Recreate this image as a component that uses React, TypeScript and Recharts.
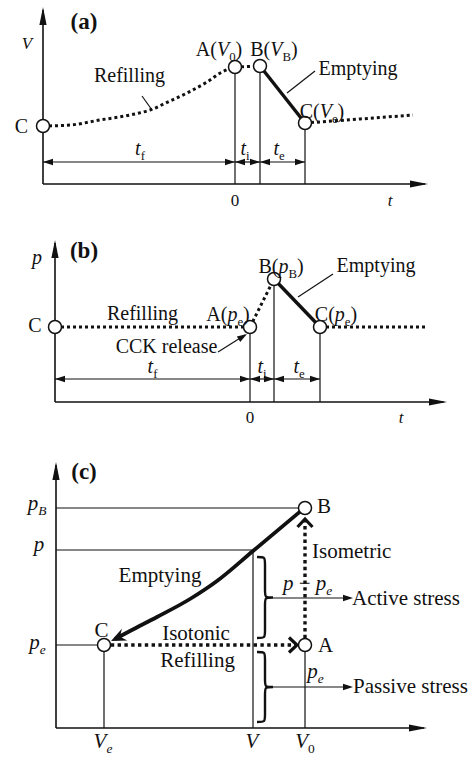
import React from "react";
import {
  ComposedChart,
  Line,
  ReferenceArea,
  ReferenceDot,
  ReferenceLine,
  XAxis,
  YAxis,
} from "recharts";

type Pt = { x: number; y: number };
type Seg = [Pt, Pt];
type Label = { x: number; y: number; text: string; anchor?: "start" | "middle" | "end" };
type Head = { x: number; y: number; angle: number };
type Brace = { x1: number; x2: number; y1: number; y2: number };
type Series = { pts: Pt[]; smooth?: boolean };

const p = (x: number, y: number): Pt => ({ x, y });

// ---------- (a) volume V against time t ----------
const refillA = [
  p(-7.68, 2.9), p(-6.6, 2.95), p(-5.4, 3.2), p(-4.2, 3.45), p(-3.4, 3.7),
  p(-2.6, 4.15), p(-1.92, 4.55), p(-1.12, 5.1), p(-0.52, 5.6), p(0, 5.85),
];
const holdA = [p(0, 5.85), p(1, 5.9)];
const emptyA = [p(1, 5.9), p(2.8, 3.05)];
const nextA = [p(2.8, 3.05), p(5, 3.25), p(7.12, 3.45)];
const statesA = [p(-7.68, 2.9), p(0, 5.85), p(1, 5.9), p(2.8, 3.05)];
const axesA: Seg[] = [[p(-7.68, 0), p(7.6, 0)], [p(-7.68, 0), p(-7.68, 8.7)]];
const axisTipsA: Head[] = [{ x: 7.72, y: 0, angle: 0 }, { x: -7.68, y: 8.85, angle: -90 }];
const guidesA: Seg[] = [
  [p(0, 0), p(0, 5.85)], [p(1, 0), p(1, 5.9)], [p(2.8, 0), p(2.8, 3.05)],
  [p(-7.68, 1.1), p(0, 1.1)], [p(0, 1.1), p(1, 1.1)], [p(1, 1.1), p(2.8, 1.1)],
  [p(-3.72, 4.4), p(-3.32, 3.7)], [p(3.2, 5.65), p(2.08, 4.55)],
];
const dimTipsA: Head[] = [
  { x: -7.68, y: 1.1, angle: 180 }, { x: 0, y: 1.1, angle: 0 },
  { x: 0, y: 1.1, angle: 180 }, { x: 1, y: 1.1, angle: 0 },
  { x: 1, y: 1.1, angle: 180 }, { x: 2.8, y: 1.1, angle: 0 },
];
const labelsA: Label[] = [
  { x: -8.54, y: 2.55, text: "C" },
  { x: -0.64, y: 6.4, text: "A(_V_~0~)" },
  { x: 1.56, y: 6.4, text: "B(_V_~B~)" },
  { x: -4.22, y: 5.1, text: "Refilling" },
  { x: 4.92, y: 5.45, text: "Emptying" },
  { x: 3.48, y: 3.3, text: "C(_V_~e~)" },
  { x: -3.8, y: 1.45, text: "_t_~f~" },
  { x: 0.4, y: 1.45, text: "_t_~i~" },
  { x: 1.76, y: 1.45, text: "_t_~e~" },
];
const smallA: Label[] = [
  { x: -8.32, y: 6.75, text: "_V_" },
  { x: 0, y: -1.1, text: "0" },
  { x: 6.2, y: -1.1, text: "_t_" },
];
const titleA: Label = { x: -6.04, y: 7.75, text: "(a)" };

// ---------- (b) pressure p against time t ----------
const refillB = [p(-7.8, 3.75), p(0, 3.75)];
const riseB = [p(0, 3.75), p(0.96, 6.15)];
const emptyB = [p(0.96, 6.15), p(2.8, 3.75)];
const nextB = [p(2.8, 3.75), p(7.08, 3.75)];
const statesB = [p(-7.8, 3.75), p(0, 3.75), p(0.96, 6.15), p(2.8, 3.75)];
const axesB: Seg[] = [[p(-7.8, 0), p(7.75, 0)], [p(-7.8, 0), p(-7.8, 7.95)]];
const axisTipsB: Head[] = [{ x: 7.88, y: 0, angle: 0 }, { x: -7.8, y: 8.1, angle: -90 }];
const guidesB: Seg[] = [
  [p(0, 0), p(0, 3.75)], [p(0.96, 0), p(0.96, 6.15)], [p(2.8, 0), p(2.8, 3.75)],
  [p(-7.8, 1.15), p(0, 1.15)], [p(0, 1.15), p(0.96, 1.15)], [p(0.96, 1.15), p(2.8, 1.15)],
  [p(3.32, 6.4), p(1.92, 5.25)], [p(-1.28, 2.5), p(-0.2, 3.35)],
];
const dimTipsB: Head[] = [
  { x: -7.8, y: 1.15, angle: 180 }, { x: 0, y: 1.15, angle: 0 },
  { x: 0, y: 1.15, angle: 180 }, { x: 0.96, y: 1.15, angle: 0 },
  { x: 0.96, y: 1.15, angle: 180 }, { x: 2.8, y: 1.15, angle: 0 },
  { x: -0.12, y: 3.4, angle: -32 },
];
const labelsB: Label[] = [
  { x: -8.6, y: 3.5, text: "C" },
  { x: -8.52, y: 6.9, text: "_p_" },
  { x: -4.3, y: 4.1, text: "Refilling" },
  { x: -0.88, y: 4.05, text: "A(_p_~e~)" },
  { x: 1.24, y: 6.45, text: "B(_p_~B~)" },
  { x: 5.04, y: 6.5, text: "Emptying" },
  { x: 3.44, y: 4.05, text: "C(_p_~e~)" },
  { x: -3.34, y: 2.45, text: "CCK release" },
  { x: -3.9, y: 1.45, text: "_t_~f~" },
  { x: 0.48, y: 1.45, text: "_t_~i~" },
  { x: 1.96, y: 1.45, text: "_t_~e~" },
];
const smallB: Label[] = [
  { x: 0, y: -1.05, text: "0" },
  { x: 6.04, y: -1.05, text: "_t_" },
];
const titleB: Label = { x: -6.64, y: 7.2, text: "(b)" };

// ---------- (c) pressure p against volume V ----------
const emptyC = [
  p(2.95, 4.45), p(3.7, 4.85), p(5.05, 5.55), p(6.7, 6.45), p(8.05, 7.35), p(9.85, 8.85), p(12.3, 10.9),
];
const isometricC = [p(12.45, 4.15), p(12.45, 10.4)];
const isotonicC = [p(2.4, 4.15), p(12.0, 4.15)];
const statesC = [p(12.45, 11), p(12.45, 4.15), p(2.4, 4.15)];
const axesC: Seg[] = [[p(0, 0), p(18.4, 0)], [p(0, 0), p(0, 13.15)]];
const axisTipsC: Head[] = [{ x: 18.55, y: 0, angle: 0 }, { x: 0, y: 13.3, angle: -90 }];
const guidesC: Seg[] = [
  [p(0, 11), p(12.45, 11)], [p(0, 8.9), p(9.85, 8.9)], [p(0, 4.15), p(2.4, 4.15)],
  [p(9.85, 0), p(9.85, 8.9)], [p(2.4, 0), p(2.4, 4.15)], [p(12.45, 0), p(12.45, 4.15)],
  [p(10.85, 6.5), p(14.5, 6.5)], [p(10.85, 2.05), p(14.5, 2.05)],
];
const stressTipsC: Head[] = [{ x: 14.85, y: 6.5, angle: 0 }, { x: 14.85, y: 2.05, angle: 0 }];
const chevronsC: Head[] = [{ x: 12.45, y: 10.45, angle: -90 }, { x: 12.05, y: 4.15, angle: 0 }];
const barbsC: Head[] = [{ x: 2.75, y: 4.35, angle: 155 }];
const bracesC: Brace[] = [
  { x1: 10.05, x2: 10.85, y1: 4.5, y2: 8.55 },
  { x1: 10.05, x2: 10.85, y1: 0.3, y2: 3.8 },
];
const labelsC: Label[] = [
  { x: -0.95, y: 10.9, text: "_p_~_B_~" },
  { x: -0.85, y: 8.85, text: "_p_" },
  { x: -0.93, y: 3.95, text: "_p_~_e_~" },
  { x: 2.35, y: -1.0, text: "_V_~_e_~" },
  { x: 9.8, y: -1.0, text: "_V_" },
  { x: 12.45, y: -1.0, text: "_V_~0~" },
  { x: 13.05, y: 10.75, text: "B", anchor: "start" },
  { x: 13.1, y: 3.8, text: "A", anchor: "start" },
  { x: 2.28, y: 4.55, text: "C" },
  { x: 5.2, y: 7.3, text: "Emptying" },
  { x: 7.0, y: 4.4, text: "Isotonic" },
  { x: 7.08, y: 3.05, text: "Refilling" },
  { x: 12.8, y: 8.5, text: "Isometric", anchor: "start" },
  { x: 12.58, y: 6.9, text: "_p_ \u2212 _p_~_e_~" },
  { x: 14.8, y: 6.15, text: "Active stress", anchor: "start" },
  { x: 14.85, y: 1.75, text: "Passive stress", anchor: "start" },
  { x: 12.98, y: 2.5, text: "_p_~_e_~" },
];
const titleC: Label = { x: 1.4, y: 12.45, text: "(c)" };

const INK = "#111";
const FONT = '"Liberation Serif", "Times New Roman", Times, serif';

// "_" toggles italic, "~" toggles subscript
function rich(s: string, size: number) {
  const parts: { t: string; it: boolean; sub: boolean }[] = [];
  let it = false;
  let sub = false;
  let buf = "";
  const flush = () => {
    if (buf) parts.push({ t: buf, it, sub });
    buf = "";
  };
  for (const ch of s) {
    if (ch === "_") {
      flush();
      it = !it;
    } else if (ch === "~") {
      flush();
      sub = !sub;
    } else buf += ch;
  }
  flush();
  let cur = 0;
  return parts.map((q, i) => {
    const target = q.sub ? size * 0.25 : 0;
    const dy = target - cur;
    cur = target;
    return (
      <tspan
        key={i}
        dy={dy}
        style={{ fontFamily: FONT, fontStyle: q.it ? "italic" : "normal", fontSize: q.sub ? size * 0.64 : size }}
      >
        {q.t}
      </tspan>
    );
  });
}

function Tip({ cx, cy, angle, kind }: { cx: number; cy: number; angle: number; kind: string }) {
  const tf = `translate(${cx},${cy}) rotate(${angle})`;
  if (kind === "chev") {
    return <path transform={tf} d="M-8,-7.5 L0,0 L-8,7.5" fill="none" stroke={INK} strokeWidth={3.2} />;
  }
  const d =
    kind === "axis"
      ? "M0,0 L-18,-3.6 L-18,3.6 Z"
      : kind === "barb"
      ? "M0,0 L-15,-6.5 L-10,0 L-15,6.5 Z"
      : "M0,0 L-10,-3.2 L-10,3.2 Z";
  return <path transform={tf} d={d} fill={INK} />;
}

function BraceShape({ x, y, width, height }: any) {
  const x1 = x + width;
  const xm = x + width / 2;
  const ym = y + height / 2;
  const y1 = y + height;
  const k = width / 2;
  const d = `M${x},${y} C${xm},${y} ${xm},${y} ${xm},${y + k} L${xm},${ym - k} C${xm},${ym} ${xm},${ym} ${x1},${ym} C${xm},${ym} ${xm},${ym} ${xm},${ym + k} L${xm},${y1 - k} C${xm},${y1} ${xm},${y1} ${x},${y1}`;
  return <path d={d} fill="none" stroke={INK} strokeWidth={2.4} />;
}

type PanelProps = {
  height: number;
  xDomain: [number, number];
  yDomain: [number, number];
  axes: Seg[];
  axisTips: Head[];
  guides: Seg[];
  smallTips: Head[];
  chevrons?: Head[];
  barbs?: Head[];
  braces?: Brace[];
  dotted: Series[];
  solid: Series[];
  states: Pt[];
  labels: Label[];
  small?: Label[];
  title: Label;
  fontSize: number;
  dotWidth: number;
  solidWidth: number;
};

function Panel(props: PanelProps) {
  const {
    height, xDomain, yDomain, axes, axisTips, guides, smallTips, chevrons = [], barbs = [],
    braces = [], dotted, solid, states, labels, small = [], title, fontSize, dotWidth, solidWidth,
  } = props;
  const text = (l: Label, size: number, bold = false) => (cp: any) => (
    <text
      x={cp.cx}
      y={cp.cy}
      textAnchor={l.anchor ?? "middle"}
      style={{ fontFamily: FONT, fontSize: size, fontWeight: bold ? 700 : 400 }}
      fill={INK}
    >
      {rich(l.text, size)}
    </text>
  );
  return (
    <ComposedChart width={472} height={height} margin={{ top: 0, right: 0, bottom: 0, left: 0 }}>
      <XAxis type="number" dataKey="x" domain={xDomain} hide allowDataOverflow />
      <YAxis type="number" dataKey="y" domain={yDomain} hide allowDataOverflow />
      {axes.map((s, i) => (
        <ReferenceLine key={`ax${i}`} segment={s} stroke={INK} strokeWidth={1.6} ifOverflow="visible" />
      ))}
      {guides.map((s, i) => (
        <ReferenceLine key={`g${i}`} segment={s} stroke={INK} strokeWidth={1.2} ifOverflow="visible" />
      ))}
      {braces.map((b, i) => (
        <ReferenceArea
          key={`br${i}`}
          x1={b.x1}
          x2={b.x2}
          y1={b.y1}
          y2={b.y2}
          ifOverflow="visible"
          shape={(r: any) => <BraceShape {...r} />}
        />
      ))}
      {dotted.map((s, i) => (
        <Line
          key={`d${i}`}
          data={s.pts}
          dataKey="y"
          type={s.smooth ? "monotone" : "linear"}
          stroke={INK}
          strokeWidth={dotWidth}
          strokeDasharray={`${dotWidth} ${dotWidth}`}
          dot={false}
          activeDot={false}
          isAnimationActive={false}
        />
      ))}
      {solid.map((s, i) => (
        <Line
          key={`s${i}`}
          data={s.pts}
          dataKey="y"
          type={s.smooth ? "monotone" : "linear"}
          stroke={INK}
          strokeWidth={solidWidth}
          dot={false}
          activeDot={false}
          isAnimationActive={false}
        />
      ))}
      {axisTips.map((h, i) => (
        <ReferenceDot key={`at${i}`} x={h.x} y={h.y} ifOverflow="visible"
          shape={(cp: any) => <Tip cx={cp.cx} cy={cp.cy} angle={h.angle} kind="axis" />} />
      ))}
      {smallTips.map((h, i) => (
        <ReferenceDot key={`st${i}`} x={h.x} y={h.y} ifOverflow="visible"
          shape={(cp: any) => <Tip cx={cp.cx} cy={cp.cy} angle={h.angle} kind="small" />} />
      ))}
      {chevrons.map((h, i) => (
        <ReferenceDot key={`ch${i}`} x={h.x} y={h.y} ifOverflow="visible"
          shape={(cp: any) => <Tip cx={cp.cx} cy={cp.cy} angle={h.angle} kind="chev" />} />
      ))}
      {barbs.map((h, i) => (
        <ReferenceDot key={`bb${i}`} x={h.x} y={h.y} ifOverflow="visible"
          shape={(cp: any) => <Tip cx={cp.cx} cy={cp.cy} angle={h.angle} kind="barb" />} />
      ))}
      {states.map((c, i) => (
        <ReferenceDot key={`c${i}`} x={c.x} y={c.y} r={6.5} fill="#fff" stroke={INK} strokeWidth={1.5} ifOverflow="visible" />
      ))}
      {labels.map((l, i) => (
        <ReferenceDot key={`l${i}`} x={l.x} y={l.y} ifOverflow="visible" shape={text(l, fontSize)} />
      ))}
      {small.map((l, i) => (
        <ReferenceDot key={`sm${i}`} x={l.x} y={l.y} ifOverflow="visible" shape={text(l, 17)} />
      ))}
      <ReferenceDot x={title.x} y={title.y} ifOverflow="visible" shape={text(title, 23, true)} />
    </ComposedChart>
  );
}

export default function App() {
  return (
    <div style={{ position: "absolute", left: 0, top: 0, width: 472, height: 760, background: "#fff" }}>
      <div style={{ position: "absolute", left: 0, top: 0 }}>
        <Panel
          height={210}
          xDomain={[-9.4, 9.48]}
          yDomain={[-1.3, 9.2]}
          axes={axesA}
          axisTips={axisTipsA}
          guides={guidesA}
          smallTips={dimTipsA}
          dotted={[{ pts: refillA, smooth: true }, { pts: holdA }, { pts: nextA, smooth: true }]}
          solid={[{ pts: emptyA }]}
          states={statesA}
          labels={labelsA}
          small={smallA}
          title={titleA}
          fontSize={20}
          dotWidth={3}
          solidWidth={3.4}
        />
      </div>
      <div style={{ position: "absolute", left: 0, top: 210 }}>
        <Panel
          height={220}
          xDomain={[-10, 8.88]}
          yDomain={[-1.4, 9.6]}
          axes={axesB}
          axisTips={axisTipsB}
          guides={guidesB}
          smallTips={dimTipsB}
          dotted={[{ pts: refillB }, { pts: riseB }, { pts: nextB }]}
          solid={[{ pts: emptyB }]}
          states={statesB}
          labels={labelsB}
          small={smallB}
          title={titleB}
          fontSize={20}
          dotWidth={3}
          solidWidth={3.4}
        />
      </div>
      <div style={{ position: "absolute", left: 0, top: 430 }}>
        <Panel
          height={330}
          xDomain={[-2.8, 20.8]}
          yDomain={[-1.6, 14.9]}
          axes={axesC}
          axisTips={axisTipsC}
          guides={guidesC}
          smallTips={stressTipsC}
          chevrons={chevronsC}
          barbs={barbsC}
          braces={bracesC}
          dotted={[{ pts: isometricC }, { pts: isotonicC }]}
          solid={[{ pts: emptyC, smooth: true }]}
          states={statesC}
          labels={labelsC}
          title={titleC}
          fontSize={21}
          dotWidth={3.4}
          solidWidth={3.8}
        />
      </div>
    </div>
  );
}
